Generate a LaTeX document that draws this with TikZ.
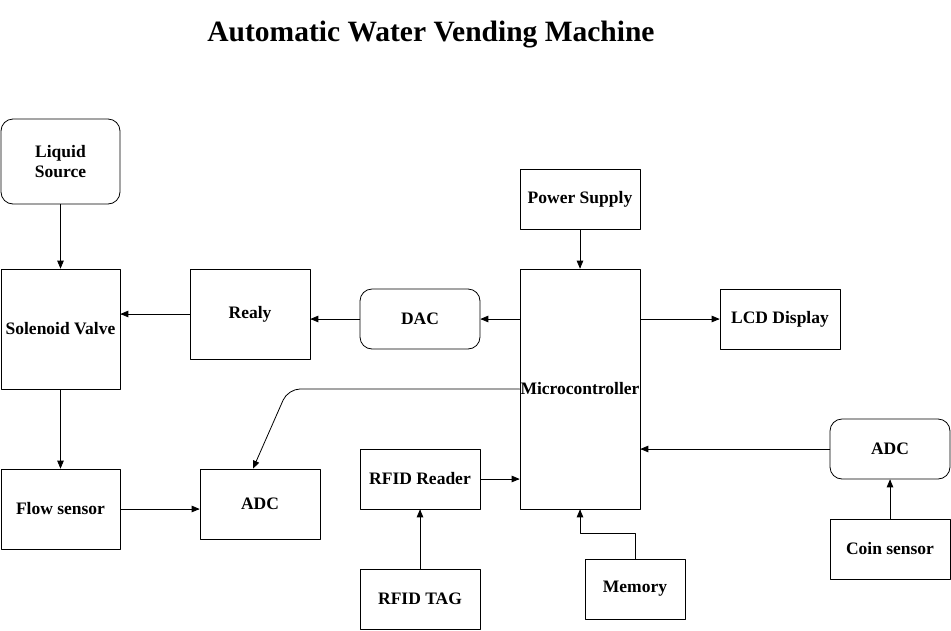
\documentclass[tikz,border=0pt]{standalone}
\usepackage{fontspec}
\setmainfont{Liberation Serif}
\usetikzlibrary{arrows}

\begin{document}
\begin{tikzpicture}[line cap=round,line join=round,>=triangle 45,x=1pt,y=-1pt,
  blk/.style={draw,line width=0.8pt,inner sep=1pt,align=center,font=\bfseries\fontsize{17.5}{20}\selectfont},
  rblk/.style={blk,rounded corners=12pt},
  con/.style={->,line width=0.8pt}]
\useasboundingbox (0,0) rectangle (951,630);
\node[font=\bfseries\fontsize{29.5}{34}\selectfont] (title) at (431,35) {Automatic Water Vending Machine};
% left column
\node[rblk,minimum width=119,minimum height=85] (liquid) at (60.5,161.5) {Liquid\\Source};
\node[blk,minimum width=119,minimum height=120] (solenoid) at (60.5,329) {Solenoid Valve};
\node[blk,minimum width=119,minimum height=80] (flow) at (60.5,509) {Flow sensor};
\node[blk,minimum width=120,minimum height=90] (realy) at (250,314) {Realy};
\node[blk,minimum width=120,minimum height=70] (adcl) at (260,504) {ADC};
% middle
\node[rblk,minimum width=120,minimum height=60] (dac) at (420,319) {DAC};
\node[blk,minimum width=120,minimum height=60] (rfidr) at (420,479) {RFID Reader};
\node[blk,minimum width=120,minimum height=60] (rfidtag) at (420,599) {RFID TAG};
\node[blk,minimum width=120,minimum height=240] (mcu) at (580,389) {};
\node[font=\bfseries\fontsize{17.5}{20}\selectfont] (mcutxt) at (580,389) {Microcontroller};
\node[blk,minimum width=120,minimum height=60] (power) at (580,199) {Power Supply};
\node[blk,minimum width=100,minimum height=60] (memory) at (635,589) {Memory};
% right
\node[blk,minimum width=120,minimum height=60] (lcd) at (780,319) {LCD Display};
\node[rblk,minimum width=120,minimum height=60] (adcr) at (890,449) {ADC};
\node[blk,minimum width=120,minimum height=60] (coin) at (890,549) {Coin sensor};
% connectors
\draw[con] (liquid) -- (solenoid);
\draw[con] (realy.west) -- (realy.west -| solenoid.east);
\draw[con] (dac.west) -- (dac.west -| realy.east);
\draw[con] (dac.east -| mcu.west) -- (dac.east);
\draw[con] (power) -- (mcu);
\draw[con] (lcd.west -| mcu.east) -- (lcd.west);
\draw[con] (adcr.west) -- (adcr.west -| mcu.east);
\draw[con] (coin) -- (adcr);
\draw[con] (solenoid) -- (flow);
\draw[con] (flow.east) -- (flow.east -| adcl.west);
\draw[con,rounded corners=12pt] (mcu.west) -- (288,389) -- ([xshift=-7pt]adcl.north);
\draw[con] (rfidr.east) -- (rfidr.east -| mcu.west);
\draw[con] (rfidtag) -- (rfidr);
\draw[con] (memory.north) -- ++(0,-25) -| (mcu.south);
\end{tikzpicture}
\end{document}
